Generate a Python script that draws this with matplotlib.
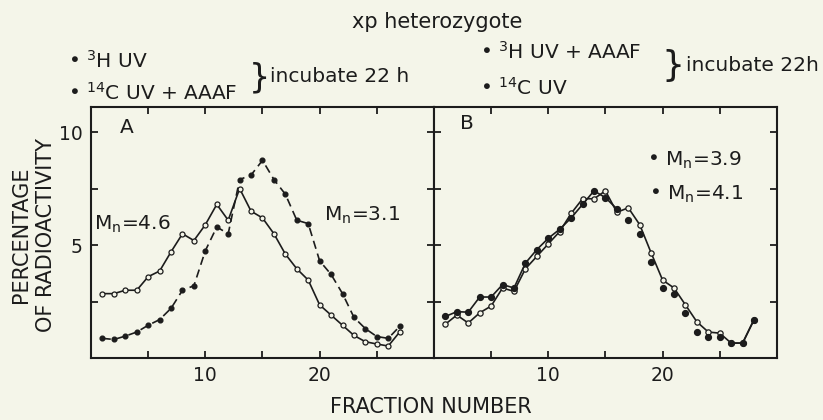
import numpy as np
import matplotlib
matplotlib.use("Agg")
import matplotlib.pyplot as plt

plt.rcParams['font.family'] = ['DejaVu Sans']
plt.rcParams['mathtext.default'] = 'regular'

# panel A: xp heterozygote, 3H UV (open) vs 14C UV+AAAF (filled)
frac_a = np.arange(1, 28)
a_open = [2.85, 2.85, 3.0, 3.0, 3.6, 3.85, 4.7, 5.5, 5.2, 5.9, 6.8, 6.1, 7.5, 6.5,
          6.2, 5.5, 4.6, 3.95, 3.45, 2.35, 1.9, 1.45, 1.0, 0.72, 0.62, 0.53, 1.15]
a_filled = [0.87, 0.82, 0.97, 1.15, 1.45, 1.7, 2.2, 3.0, 3.2, 4.75, 5.8, 5.5, 7.9, 8.1,
            8.75, 7.9, 7.25, 6.1, 5.95, 4.3, 3.7, 2.85, 1.8, 1.3, 0.95, 0.87, 1.4]

# panel B: 3H UV+AAAF vs 14C UV
frac_b = np.arange(1, 29)
b_open = [1.5, 1.9, 1.55, 2.0, 2.3, 3.1, 2.95, 3.95, 4.5, 5.05, 5.6, 6.4, 7.05, 7.05,
          7.4, 6.45, 6.65, 5.9, 4.65, 3.45, 3.1, 2.35, 1.6, 1.15, 1.1, 0.66, 0.66, 1.7]
b_filled = [1.84, 2.05, 2.03, 2.7, 2.7, 3.25, 3.1, 4.2, 4.8, 5.3, 5.7, 6.2, 6.8, 7.4,
            7.1, 6.6, 6.1, 5.5, 4.25, 3.1, 2.85, 2.0, 1.15, 0.95, 0.93, 0.66, 0.66, 1.7]
b_filled_line_end = 16  # filled series drawn as a line up to this fraction

x_ticks = [5, 10, 15, 20, 25]
x_labels = ['', '10', '', '20', '']
y_ticks = [2.5, 5, 7.5, 10]
y_labels = ['', '5', '', '10']

bg = '#f4f5e9'
ink = '#1c1c1c'
fs = 14.5

fig = plt.figure(figsize=(8.23, 4.2), dpi=100, facecolor=bg)
ax_a = fig.add_axes([0.1106, 0.1476, 0.4167, 0.597])
ax_b = fig.add_axes([0.5273, 0.1476, 0.4167, 0.597])

for ax in (ax_a, ax_b):
    ax.set_facecolor(bg)
    ax.set_xlim(0, 30)
    ax.set_ylim(0, 11.1)
    ax.set_xticks(x_ticks)
    ax.set_xticklabels(x_labels)
    ax.set_yticks(y_ticks)
    ax.tick_params(direction='in', length=5, width=1.3, top=True, right=True,
                   colors=ink, labelsize=13.5, pad=6)
    for s in ax.spines.values():
        s.set_linewidth(1.5)
        s.set_color(ink)

ax_a.set_yticklabels(y_labels)
ax_b.set_yticklabels([])

# panel A
ax_a.plot(frac_a, a_open, '-', color=ink, lw=1.2, marker='o', ms=3.6,
          mfc=bg, mec=ink, mew=0.9)
ax_a.plot(frac_a, a_filled, color=ink, lw=1.2, ls=(0, (5, 3)), marker='o', ms=3.4,
          mfc=ink, mec=ink)

# panel B
ax_b.plot(frac_b, b_open, '-', color=ink, lw=1.2, marker='o', ms=3.8,
          mfc=bg, mec=ink, mew=0.9)
n = b_filled_line_end
ax_b.plot(frac_b[:n], b_filled[:n], '-', color=ink, lw=1.2)
ax_b.plot(frac_b, b_filled, 'o', color=ink, ms=4.2)
ax_b.plot(frac_b[-3:], b_filled[-3:], '-', color=ink, lw=1.2)

ax_a.text(3.1, 10.2, 'A', fontsize=fs, color=ink, ha='center', va='center')
ax_b.text(2.9, 10.4, 'B', fontsize=fs, color=ink, ha='center', va='center')
ax_a.text(3.6, 5.9, 'M$_n$=4.6', fontsize=fs, color=ink, ha='center', va='center')
ax_a.text(23.7, 6.3, 'M$_n$=3.1', fontsize=fs, color=ink, ha='center', va='center')
ax_b.text(18.6, 8.75, '• M$_n$=3.9', fontsize=fs, color=ink, ha='left', va='center')
ax_b.text(18.8, 7.25, '• M$_n$=4.1', fontsize=fs, color=ink, ha='left', va='center')

# header
fig.text(0.531, 0.947, 'xp heterozygote', fontsize=15, color=ink, ha='center', va='center')
fig.text(0.083, 0.855, '• $^3$H UV', fontsize=fs, color=ink, ha='left', va='center')
fig.text(0.083, 0.778, '• $^{14}$C UV + AAAF', fontsize=fs, color=ink, ha='left', va='center')
fig.text(0.302, 0.815, '}', fontsize=24, color=ink, ha='left', va='center')
fig.text(0.328, 0.817, 'incubate 22 h', fontsize=fs, color=ink, ha='left', va='center')
fig.text(0.583, 0.876, '• $^3$H UV + AAAF', fontsize=fs, color=ink, ha='left', va='center')
fig.text(0.583, 0.790, '• $^{14}$C UV', fontsize=fs, color=ink, ha='left', va='center')
fig.text(0.804, 0.842, '}', fontsize=26, color=ink, ha='left', va='center')
fig.text(0.834, 0.845, 'incubate 22h', fontsize=fs, color=ink, ha='left', va='center')

fig.text(0.524, 0.03, 'FRACTION NUMBER', fontsize=15, color=ink, ha='center', va='center')
fig.text(0.026, 0.44, 'PERCENTAGE', fontsize=15, color=ink, rotation=90,
         ha='center', va='center')
fig.text(0.056, 0.44, 'OF RADIOACTIVITY', fontsize=15, color=ink, rotation=90,
         ha='center', va='center')

fig.savefig('out.png', dpi=100, facecolor=bg)
